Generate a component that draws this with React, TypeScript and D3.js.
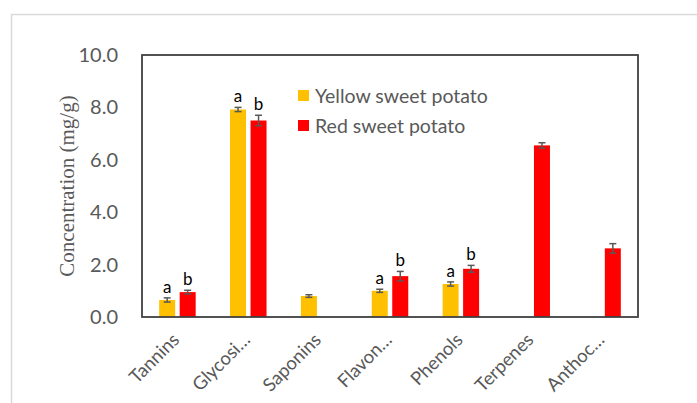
import React, { useEffect, useRef } from 'react';
import * as d3 from 'd3';

const categories = ['Tannins', 'Glycosi…', 'Saponins', 'Flavon…', 'Phenols', 'Terpenes', 'Anthoc…'];
const seriesNames = ['Yellow sweet potato', 'Red sweet potato'];
const yellowValues = [0.65, 7.92, 0.8, 1.0, 1.26, null, null];
const yellowErrors = [0.08, 0.08, 0.05, 0.06, 0.08, null, null];
const redValues = [0.95, 7.5, null, 1.56, 1.84, 6.55, 2.62];
const redErrors = [0.07, 0.2, null, 0.18, 0.13, 0.1, 0.18];
const yellowLetters = ['a', 'a', '', 'a', 'a', '', ''];
const redLetters = ['b', 'b', '', 'b', 'b', '', ''];
const yTicks = [0, 2, 4, 6, 8, 10];

const colors = ['#FFC000', '#FF0000'];

const App = () => {
    const svgRef = useRef(null);

    useEffect(() => {
        if (!svgRef.current) return;
        const svg = d3.select(svgRef.current);
        svg.selectAll('*').remove();

        const W = 697, H = 403;
        const box = { left: 142, top: 55, right: 638, bottom: 317 };
        const font = 'Lato, "Open Sans", sans-serif';

        // outer frame
        svg.append('rect')
            .attr('x', 11.5).attr('y', 14.5)
            .attr('width', W).attr('height', H)
            .attr('fill', '#fff').attr('stroke', '#d9d9d9').attr('stroke-width', 1.5);

        const x = d3.scaleBand().domain(categories).range([box.left, box.right]);
        const y = d3.scaleLinear().domain([0, 10]).range([box.bottom, box.top]);
        const barW = 16, gap = 4.5;

        const g = svg.append('g');

        const series = [
            { values: yellowValues, errors: yellowErrors, letters: yellowLetters, offset: -gap / 2 - barW },
            { values: redValues, errors: redErrors, letters: redLetters, offset: gap / 2 },
        ];

        series.forEach((s, si) => {
            categories.forEach((c, i) => {
                const v = s.values[i];
                if (v == null) return;
                const cx = x(c) + x.bandwidth() / 2 + s.offset;
                g.append('rect')
                    .attr('x', cx).attr('y', y(v))
                    .attr('width', barW).attr('height', y(0) - y(v))
                    .attr('fill', colors[si]);
                const e = s.errors[i];
                const mx = cx + barW / 2;
                const eb = g.append('g').attr('stroke', '#595959').attr('stroke-width', 1.5);
                eb.append('line').attr('x1', mx).attr('x2', mx).attr('y1', y(v - e)).attr('y2', y(v + e));
                eb.append('line').attr('x1', mx - 3.5).attr('x2', mx + 3.5).attr('y1', y(v - e)).attr('y2', y(v - e));
                eb.append('line').attr('x1', mx - 3.5).attr('x2', mx + 3.5).attr('y1', y(v + e)).attr('y2', y(v + e));
                if (s.letters[i]) {
                    g.append('text')
                        .attr('x', mx).attr('y', y(v + e) - 5)
                        .attr('text-anchor', 'middle')
                        .attr('font-family', font).attr('font-size', 17)
                        .attr('fill', '#000')
                        .text(s.letters[i]);
                }
            });
        });

        // plot box
        svg.append('rect')
            .attr('x', box.left).attr('y', box.top)
            .attr('width', box.right - box.left).attr('height', box.bottom - box.top)
            .attr('fill', 'none').attr('stroke', '#404040').attr('stroke-width', 1.8);

        // y ticks
        svg.append('g').selectAll('text').data(yTicks).join('text')
            .attr('x', 118).attr('y', d => y(d))
            .attr('dy', '0.35em')
            .attr('text-anchor', 'end')
            .attr('font-family', font).attr('font-size', 20)
            .attr('fill', '#595959')
            .text(d => d3.format('.1f')(d));

        // y title
        svg.append('text')
            .attr('transform', `translate(74,${(box.top + box.bottom) / 2}) rotate(-90)`)
            .attr('text-anchor', 'middle')
            .attr('font-family', '"Liberation Serif", serif').attr('font-size', 21)
            .attr('fill', '#595959')
            .text('Concentration (mg/g)');

        // x labels
        svg.append('g').selectAll('text').data(categories).join('text')
            .attr('transform', d => `translate(${x(d) + x.bandwidth() / 2 + 3},${box.bottom + 24}) rotate(-45)`)
            .attr('text-anchor', 'end')
            .attr('font-family', font).attr('font-size', 18.5)
            .attr('fill', '#595959')
            .text(d => d);

        // legend
        const lg = svg.append('g').attr('transform', 'translate(298,90)');
        seriesNames.forEach((n, i) => {
            lg.append('rect').attr('x', 0).attr('y', i * 30).attr('width', 11).attr('height', 11).attr('fill', colors[i]);
            lg.append('text')
                .attr('x', 17).attr('y', i * 30 + 6).attr('dy', '0.35em')
                .attr('font-family', font).attr('font-size', 19.5)
                .attr('fill', '#595959')
                .text(n);
        });
    }, []);

    return (
        <svg ref={svgRef} width={697} height={403}
            style={{ position: 'absolute', left: 0, top: 0, background: '#fff' }} />
    );
};

export default App;
